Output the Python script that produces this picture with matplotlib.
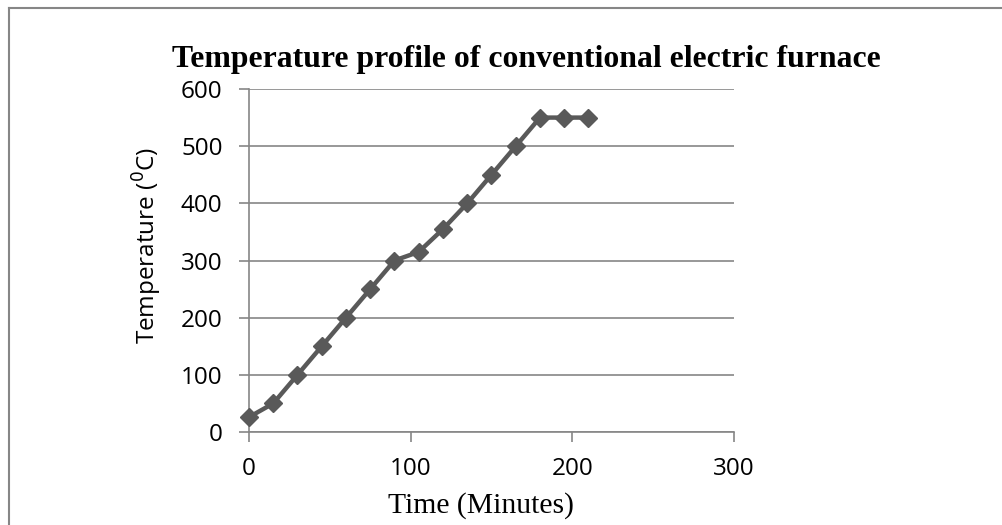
import matplotlib
matplotlib.use("Agg")
import matplotlib.pyplot as plt

time_min = [0, 15, 30, 45, 60, 75, 90, 105, 120, 135, 150, 165, 180, 195, 210]
temperature = [26, 50, 100, 150, 200, 250, 300, 315, 355, 400, 450, 500, 550, 550, 550]
x_ticks = [0, 100, 200, 300]
y_ticks = [0, 100, 200, 300, 400, 500, 600]

fig = plt.figure(figsize=(10.03, 5.25), dpi=100)
ax = fig.add_axes([249/1003, 1-432/525, (734-249)/1003, (432-89)/525])

grid_c = "#868686"
ax.plot(time_min, temperature, color="#595959", linewidth=3.2, marker="D",
        markersize=9.5, markerfacecolor="#595959", markeredgecolor="#595959",
        zorder=3, clip_on=False)

ax.set_xlim(0, 300)
ax.set_ylim(0, 600)
ax.set_xticks(x_ticks)
ax.set_yticks(y_ticks)
ax.yaxis.grid(True, color=grid_c, linewidth=1.2)
ax.set_axisbelow(True)
for s in ["top", "right"]:
    ax.spines[s].set_visible(False)
for s in ["left", "bottom"]:
    ax.spines[s].set_color(grid_c)
    ax.spines[s].set_linewidth(1.2)
ax.tick_params(axis="both", direction="out", length=7, width=1.2, color=grid_c,
               labelsize=17.5, labelcolor="black")
for lab in ax.get_xticklabels() + ax.get_yticklabels():
    lab.set_family("Open Sans")
ax.tick_params(axis="x", pad=11)
ax.tick_params(axis="y", pad=12)

fig.text(526/1003, 1-67/525, "Temperature profile of conventional electric furnace",
         ha="center", va="baseline", family="Liberation Serif", weight="bold", fontsize=22.9)
fig.text(481/1003, 1-513/525, "Time (Minutes)", ha="center", va="baseline",
         family="Liberation Serif", fontsize=21.3)
fig.text(147/1003, 1-245/525, "Temperature ($^{0}$C)", ha="center", va="center",
         rotation=90, family="Open Sans", fontsize=17.5)

fig.add_artist(plt.Line2D([9/1003, 9/1003], [0, 1-8/525], color=grid_c, linewidth=1.5,
                          transform=fig.transFigure))
fig.add_artist(plt.Line2D([9/1003, 1], [1-8/525, 1-8/525], color=grid_c, linewidth=1.5,
                          transform=fig.transFigure))

fig.savefig("out.png", dpi=100)
